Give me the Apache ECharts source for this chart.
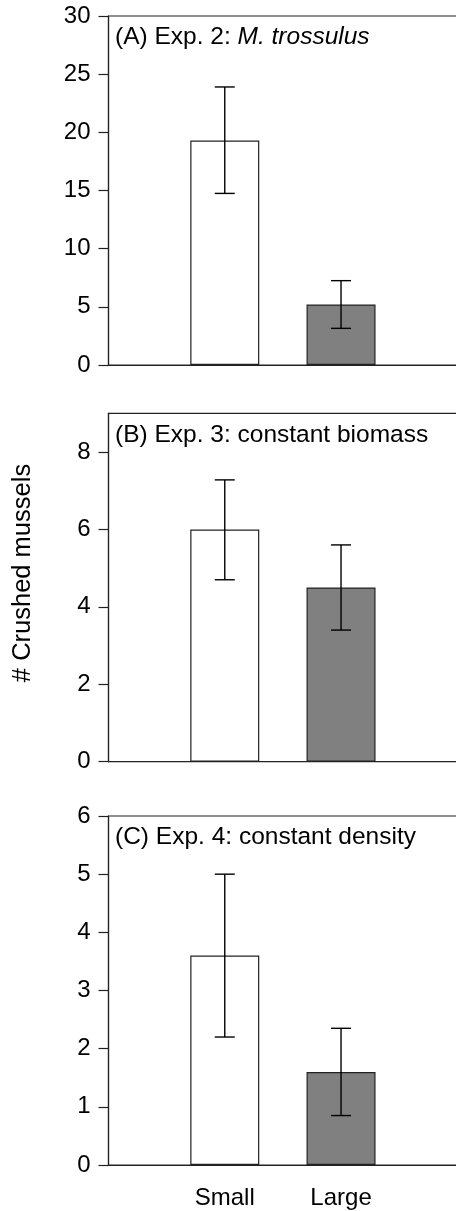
<!DOCTYPE html>
<html>
<head>
<meta charset="utf-8">
<script src="https://cdn.jsdelivr.net/npm/echarts@6/dist/echarts.min.js"></script>
<style>
html,body{margin:0;padding:0;background:#fff;}
#chart{width:456px;height:1211px;}
</style>
</head>
<body>
<div id="chart"></div>
<script>
// ---- data ----
const categories = ['', 'Small', 'Large', ''];
const groupNames = ['Small', 'Large'];
const yTitle = '# Crushed mussels';

const titleA = ['(A) Exp. 2: ', 'M. trossulus'];
const meanA = [19.3, 5.2];
const lowA = [14.75, 3.15];
const highA = [23.9, 7.25];
const ticksA = [0, 5, 10, 15, 20, 25, 30];

const titleB = ['(B) Exp. 3: constant biomass', ''];
const meanB = [6.0, 4.5];
const lowB = [4.7, 3.4];
const highB = [7.28, 5.6];
const ticksB = [0, 2, 4, 6, 8];

const titleC = ['(C) Exp. 4: constant density', ''];
const meanC = [3.6, 1.6];
const lowC = [2.2, 0.85];
const highC = [5.0, 2.35];
const ticksC = [0, 1, 2, 3, 4, 5, 6];

// ---- build ----
const FONT = 'Liberation Sans, Arial, Helvetica, sans-serif';
const AXC = '#222';
const panels = [
  {mean: meanA, low: lowA, high: highA, ticks: ticksA, max: 30, top: 16, height: 349, title: titleA, showX: false},
  {mean: meanB, low: lowB, high: highB, ticks: ticksB, max: 9, top: 413.3, height: 348.4, title: titleB, showX: false},
  {mean: meanC, low: lowC, high: highC, ticks: ticksC, max: 6, top: 816, height: 349, title: titleC, showX: true}
];
const LEFT = 108.5;
const fills = ['#ffffff', '#808080'];

const grid = [], xAxis = [], yAxis = [], series = [], graphic = [];
panels.forEach((p, i) => {
  grid.push({left: LEFT, top: p.top, height: p.height, right: -1.3, show: true,
    borderColor: AXC, borderWidth: 1.2, backgroundColor: 'transparent',
    containLabel: false, outerBoundsMode: 'none'});
  xAxis.push({type: 'category', gridIndex: i, data: categories, boundaryGap: false,
    axisLine: {show: true, lineStyle: {color: AXC, width: 1.2}},
    axisTick: {show: false},
    axisLabel: {show: p.showX, interval: 0, margin: 21, color: '#000', fontFamily: FONT, fontSize: 24},
    splitLine: {show: false}});
  yAxis.push({type: 'value', gridIndex: i, min: 0, max: p.max,
    axisLine: {show: true, lineStyle: {color: AXC, width: 1.2}},
    axisTick: {show: true, length: 10, lineStyle: {color: AXC, width: 1.2}, customValues: p.ticks},
    axisLabel: {show: true, margin: 18, color: '#000', fontFamily: FONT, fontSize: 24, customValues: p.ticks},
    splitLine: {show: false}});
  const barData = categories.map((c) => {
    const g = groupNames.indexOf(c);
    if (g < 0) return '-';
    return {value: p.mean[g], itemStyle: {color: fills[g], borderColor: AXC, borderWidth: 1.2}};
  });
  series.push({type: 'bar', xAxisIndex: i, yAxisIndex: i, data: barData, barWidth: 69, silent: true, animation: false});
  const errData = groupNames.map((g, k) => [categories.indexOf(g), p.low[k], p.high[k]]);
  series.push({type: 'custom', xAxisIndex: i, yAxisIndex: i, data: errData, silent: true, animation: false, z: 5,
    renderItem: function (params, api) {
      const x = api.value(0);
      const lo = api.coord([x, api.value(1)]);
      const hi = api.coord([x, api.value(2)]);
      const hw = 10;
      const st = {stroke: '#000', lineWidth: 1.4};
      return {type: 'group', children: [
        {type: 'line', shape: {x1: lo[0], y1: lo[1], x2: hi[0], y2: hi[1]}, style: st},
        {type: 'line', shape: {x1: lo[0] - hw, y1: lo[1], x2: lo[0] + hw, y2: lo[1]}, style: st},
        {type: 'line', shape: {x1: hi[0] - hw, y1: hi[1], x2: hi[0] + hw, y2: hi[1]}, style: st}
      ]};
    }});
  graphic.push({type: 'text', left: 115, top: p.top + 9,
    style: {text: '{n|' + p.title[0] + '}' + (p.title[1] ? '{i|' + p.title[1] + '}' : ''),
      rich: {n: {fontFamily: FONT, fontSize: 24.5, fill: '#000'}, i: {fontFamily: FONT, fontSize: 24.5, fontStyle: 'italic', fill: '#000'}}}});
});
graphic.push({type: 'text', x: 23, y: 573, rotation: Math.PI / 2,
  style: {text: yTitle, fontFamily: FONT, fontSize: 25.5, fill: '#000', align: 'center', verticalAlign: 'middle'}});

const chart = echarts.init(document.getElementById('chart'), null, {renderer: 'canvas'});
chart.setOption({animation: false, backgroundColor: '#fff', grid, xAxis, yAxis, series, graphic});
</script>
</body>
</html>
